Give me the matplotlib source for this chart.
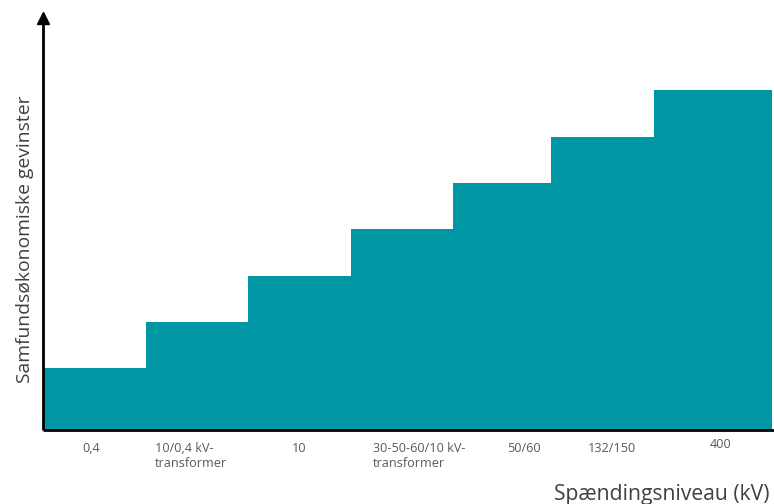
import numpy as np
import matplotlib
matplotlib.use('Agg')
import matplotlib.pyplot as plt
from matplotlib.transforms import offset_copy

plt.rcParams['font.family'] = ['Open Sans', 'DejaVu Sans']

# spændingsniveauer og relativ samfundsøkonomisk gevinst (trinvis)
levels = ['0,4', '10/0,4 kV-\ntransformer', '10', '30-50-60/10 kV-\ntransformer',
          '50/60', '132/150', '400']
gain = [4, 7, 10, 13, 16, 19, 22]

# step widths (layout, in px-like units) and label offsets from the step's left edge
step_w = [103, 102, 103, 102, 98, 103, 118]
label_dx = [39, 9, 44, 22, 54, 37, 56]
label_dy = [0, 0, 0, 0, 0, 0, 4]

TEAL = '#0097a5'
GREY = '#595959'

W, H = 774, 504
fig = plt.figure(figsize=(W / 100, H / 100), dpi=100)
ax = fig.add_axes([43 / W, (H - 430) / H, (774 - 43) / W, (430 - 13) / H])

left = np.concatenate([[0], np.cumsum(step_w)[:-1]])
ax.bar(left, gain, width=step_w, align='edge', color=TEAL, linewidth=0)
ax.set_xlim(0, 731)
ax.set_ylim(0, 27)

for s in ['top', 'right']:
    ax.spines[s].set_visible(False)
for s in ['left', 'bottom']:
    ax.spines[s].set_linewidth(2.0)
    ax.spines[s].set_color('black')
    ax.spines[s].set_capstyle('butt')
ax.set_xticks([])
ax.set_yticks([])

# arrow head on the y axis
ax.plot([0], [27 - 5.5 / 15.45], marker='^', markersize=8, color='black',
        clip_on=False, zorder=5)

# category labels under the axis
for x0, lab, dx, dy in zip(left, levels, label_dx, label_dy):
    tr = offset_copy(ax.get_xaxis_transform(), fig=fig, x=0, y=-(12 - dy),
                     units='dots')
    ax.text(x0 + dx, 0, lab, transform=tr, ha='left', va='top',
            fontsize=9.1, color=GREY, linespacing=1.2)

fig.text(770 / W, 1 - 500 / H, 'Spændingsniveau (kV)', ha='right', va='baseline',
         fontsize=15.2, color='#404040')
fig.text(25 / W, 1 - 239 / H, 'Samfundsøkonomiske gevinster', rotation=90,
         ha='center', va='center', fontsize=13.9, color='#404040')

fig.savefig('out.png', dpi=100)
